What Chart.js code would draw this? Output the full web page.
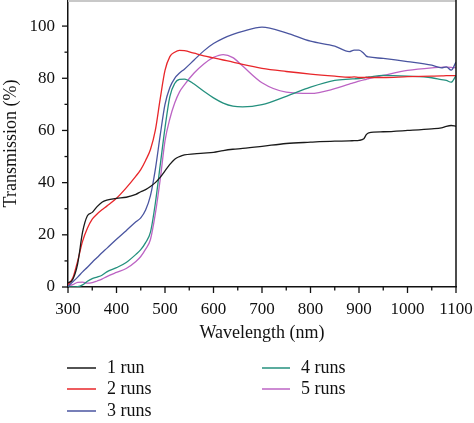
<!DOCTYPE html>
<html>
<head>
<meta charset="utf-8">
<script src="https://cdn.jsdelivr.net/npm/chart.js@4/dist/chart.umd.min.js"></script>
<style>
  html, body { margin: 0; padding: 0; background: #ffffff; }
  #wrap { width: 474px; height: 423px; position: relative; }
</style>
</head>
<body>
<div id="wrap"><canvas id="c" width="474" height="423"></canvas></div>
<script>
const wavelengths = [300,310,320,330,340,350,360,370,380,400,420,440,450,460,470,480,490,500,510,520,530,540,560,580,600,620,640,660,700,750,800,850,880,890,900,910,915,920,950,1000,1050,1070,1080,1090,1100];

const run1 = [1.5,3,9,21,27.3,28.6,30.8,32.5,33.3,34,34.4,35.5,36.5,37.3,38.5,40,42,44.5,47,49,50,50.6,51,51.3,51.6,52.3,52.8,53.1,53.9,55,55.5,55.9,56,56.1,56.2,56.8,58.4,59.1,59.5,60,60.6,61,61.6,61.9,61.6];
const run2 = [0.9,3.5,10,17.5,22.5,26,28,29.6,31,34,38,42.5,45,48.5,52.7,60,72,83,88.3,90,90.7,90.6,89.6,88.6,87.8,87,86.2,85.3,83.8,82.6,81.6,80.8,80.4,80.5,80.3,80.3,80.3,80.3,80.3,80.6,80.8,80.9,81,81,81];
const run3 = [0.3,2,3.8,5.8,7.6,9.5,11.3,13.1,14.8,18.3,21.6,25,26.5,29.5,35,45,58,70,76.5,80,82,83.5,87,90.5,93.3,95.3,96.8,98,99.6,97.4,94.2,92.3,90.2,90.8,90.8,89.5,88.5,88.2,87.6,86.4,85,84,84.4,83.1,86.2];
const run4 = [0,0,0.1,0.8,2.2,3.2,3.8,4.5,5.8,7.4,9.4,12.5,14.3,17,21,32,46.5,61,73,78,79.6,79.7,77.8,75,72.5,70.5,69.3,69,69.9,73.1,76.6,79.2,79.7,79.8,79.9,80.2,80.4,80.5,81.1,80.8,80.2,79.5,79.2,78.5,81];
const run5 = [0.5,0.9,1.8,1.9,1.5,1.7,2.3,3,4,5.6,7.1,9.8,11.7,14.5,18.2,28,41,56,64.5,70.5,74.8,77.5,82,85.5,88,89.1,87.9,84.7,78.3,74.7,74.2,76,77.8,78.3,78.9,79.4,79.6,79.9,81.1,83,84,84.2,84.3,84.2,84];

const seriesLabels = ['1 run','2 runs','3 runs','4 runs','5 runs'];
const seriesColors = ['#1a1a1a','#e8262a','#4a55a0','#24907e','#bc64c4'];
const seriesValues = [run1, run2, run3, run4, run5];

const xTickValues = [300,400,500,600,700,800,900,1000,1100];
const yTickValues = [0,20,40,60,80,100];

const FONT = "'Liberation Serif', 'Times New Roman', serif";

const datasets = seriesValues.map((vals, i) => ({
  label: seriesLabels[i],
  data: vals.map((v, j) => ({x: wavelengths[j], y: v})),
  borderColor: seriesColors[i],
  backgroundColor: seriesColors[i],
  borderWidth: 1.3,
  pointRadius: 0,
  fill: false,
  cubicInterpolationMode: 'monotone'
}));

const decorPlugin = {
  id: 'decor',
  afterDraw(chart) {
    const ctx = chart.ctx;
    const xs = chart.scales.x, ys = chart.scales.y;
    const a = chart.chartArea;
    ctx.save();
    ctx.fillStyle = '#c8c8c8';
    ctx.fillRect(a.left, 0, a.right - a.left, 2);
    ctx.strokeStyle = '#111';
    ctx.lineWidth = 1.5;
    ctx.beginPath();
    ctx.moveTo(a.right, a.top);
    ctx.lineTo(a.right, a.bottom);
    ctx.stroke();
    ctx.lineWidth = 1.3;
    for (let v = 300; v <= 1100; v += 50) {
      const px = xs.getPixelForValue(v);
      const len = (v % 100 === 0) ? 6 : 3.5;
      ctx.beginPath();
      ctx.moveTo(px, a.bottom);
      ctx.lineTo(px, a.bottom + len);
      ctx.stroke();
    }
    for (let v = 0; v <= 100; v += 10) {
      const py = ys.getPixelForValue(v);
      const len = (v % 20 === 0) ? 6 : 3.5;
      ctx.beginPath();
      ctx.moveTo(a.left, py);
      ctx.lineTo(a.left - len, py);
      ctx.stroke();
    }
    ctx.font = '18px ' + FONT;
    ctx.textBaseline = 'middle';
    ctx.textAlign = 'left';
    const cols = [{lx: 67, lw: 29, tx: 107}, {lx: 262, lw: 28, tx: 301}];
    const rows = [368, 389, 411];
    chart.data.datasets.forEach((ds, i) => {
      const col = cols[i < 3 ? 0 : 1];
      const y = rows[i < 3 ? i : i - 3];
      ctx.strokeStyle = ds.borderColor;
      ctx.lineWidth = 1.5;
      ctx.beginPath();
      ctx.moveTo(col.lx, y);
      ctx.lineTo(col.lx + col.lw, y);
      ctx.stroke();
      ctx.fillStyle = '#111';
      ctx.fillText(ds.label, col.tx, y);
    });
    ctx.restore();
  }
};

new Chart(document.getElementById('c'), {
  type: 'line',
  data: { datasets },
  options: {
    responsive: false,
    animation: false,
    layout: { padding: { top: 0, right: 18, bottom: 76, left: 0 } },
    plugins: { legend: { display: false }, tooltip: { enabled: false } },
    scales: {
      x: {
        type: 'linear',
        min: 300, max: 1100,
        afterBuildTicks: (s) => { s.ticks = xTickValues.map(v => ({value: v})); },
        afterFit: (s) => { s.height = 60; s.paddingLeft = 0; s.paddingRight = 0; },
        grid: { display: false, drawTicks: false },
        border: { display: true, color: '#111', width: 1.5 },
        ticks: { color: '#111', font: { family: FONT, size: 17 }, padding: 12, maxRotation: 0, autoSkip: false, callback: (v) => String(v) },
        title: { display: true, text: 'Wavelength (nm)', color: '#111', font: { family: FONT, size: 18 }, padding: { top: 0, bottom: 3 } }
      },
      y: {
        min: 0, max: 110,
        afterBuildTicks: (s) => { s.ticks = yTickValues.map(v => ({value: v})); },
        afterFit: (s) => { s.width = 68; s.paddingTop = 0; s.paddingBottom = 0; },
        grid: { display: false, drawTicks: false },
        border: { display: true, color: '#111', width: 1.5 },
        ticks: { color: '#111', font: { family: FONT, size: 17 }, padding: 13, callback: (v) => String(v) },
        title: { display: true, text: 'Transmission (%)', color: '#111', font: { family: FONT, size: 18 }, padding: { top: 0, bottom: 0 } }
      }
    }
  },
  plugins: [decorPlugin]
});
</script>
</body>
</html>
